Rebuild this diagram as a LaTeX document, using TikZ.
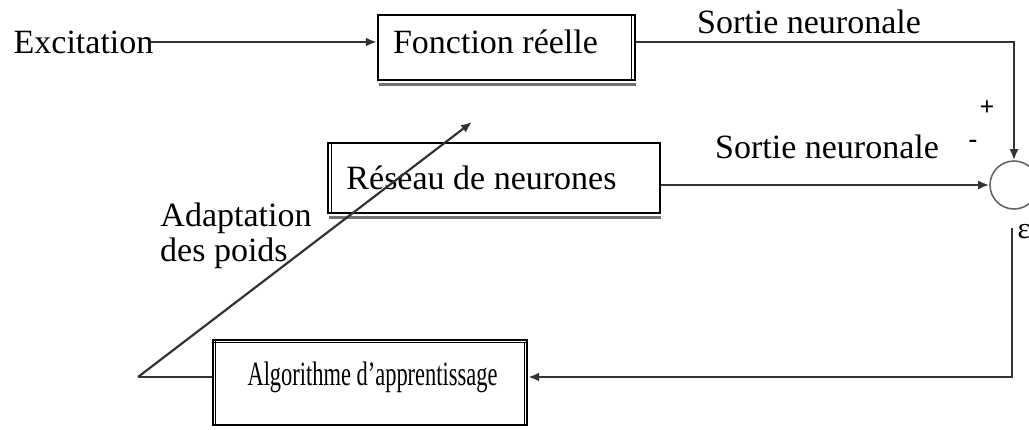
\documentclass[tikz,border=0pt]{standalone}
\usepackage{fontspec}
\setmainfont{Liberation Serif}
\usetikzlibrary{arrows.meta,calc}

\tikzset{
  blockbox/.style={draw=black, line width=2.4pt, inner sep=0pt},
  txt/.style={inner sep=0pt, font=\fontsize{34}{36}\selectfont},
  sign/.style={inner sep=0pt, font=\fontsize{26}{28}\selectfont\bfseries},
  conn/.style={draw=black!80, line width=2.2pt},
  arr/.style={conn, -{Latex[length=11pt,width=9pt]}},
  edge2/.style={draw=black, line width=1pt},
  shade2/.style={draw=black!55, line width=2.6pt},
}

\begin{document}
\begin{tikzpicture}[x=1pt,y=-1pt]
  \useasboundingbox (0,0) rectangle (1029,429);

  % blocks
  \node[blockbox, minimum width=257pt, minimum height=65pt] (fr) at (506.5,47.5) {};
  \node[blockbox, minimum width=332pt, minimum height=70pt] (rn) at (494,178) {};
  \node[blockbox, minimum width=314pt, minimum height=85pt] (algo) at (370,382.5) {};
  \node[draw=black!60, line width=1.6pt, circle, minimum size=48pt, inner sep=0pt] (sum) at (1014,185) {};

  % doubled edges and shadows of the blocks
  \draw[edge2] ($(fr.north east)+(-4.5,0)$) -- ($(fr.south east)+(-4.5,0)$);
  \draw[shade2] ($(fr.south west)+(2,3.5)$) -- ($(fr.south east)+(0,3.5)$);
  \draw[edge2] ($(rn.north west)+(4.5,0)$) -- ($(rn.south west)+(4.5,0)$);
  \draw[shade2] ($(rn.south west)+(2,3.5)$) -- ($(rn.south east)+(0,3.5)$);
  \draw[edge2] ($(algo.north west)+(0,4)$) -- ($(algo.north east)+(0,4)$);
  \draw[edge2] ($(algo.north west)+(4,0)$) -- ($(algo.south west)+(4,0)$);
  \draw[edge2] ($(algo.north east)+(-4,4)$) -- ($(algo.south east)+(-4,0)$);

  % block texts
  \node[txt] (frtext) at (495.5,42) {Fonction réelle};
  \node[txt] (rntext) at (481.5,178) {Réseau de neurones};
  \node[txt] (algotext) at (372.5,377) {\scalebox{0.66}[1]{Algorithme d’apprentissage}};

  % free labels
  \node[txt] (exc) at (83.5,42) {Excitation};
  \node[txt] (out1) at (809,22) {Sortie neuronale};
  \node[txt] (out2) at (827,147) {Sortie neuronale};
  \node[sign] (plus) at (987,108) {+};
  \node[sign] (minus) at (973,144) {-};
  \node[inner sep=0pt, font=\fontsize{30}{32}\selectfont] (eps) at (1024,232) {ε};
  \node[txt] (adapt1) at (236,218) {Adaptation};
  \node[txt, anchor=west] (adapt2) at (160,253) {des poids};

  % connector end points
  \coordinate (excend) at (150,42);
  \coordinate (fb) at (1012,377);
  \coordinate (corner) at (138,377);
  \coordinate (adapttip) at (472,122);

  % connectors
  \draw[arr] (excend) -- (excend -| fr.west);
  \draw[arr] (excend -| fr.east) -| (sum.north);
  \draw[arr] (sum.west -| rn.east) -- (sum.west);
  \draw[arr] ($(sum.south)+(-2,18)$) -- (fb) -- (fb -| algo.east);
  \draw[conn] (corner -| algo.west) -- (corner);
  \draw[arr] (corner) -- (adapttip);
\end{tikzpicture}
\end{document}
